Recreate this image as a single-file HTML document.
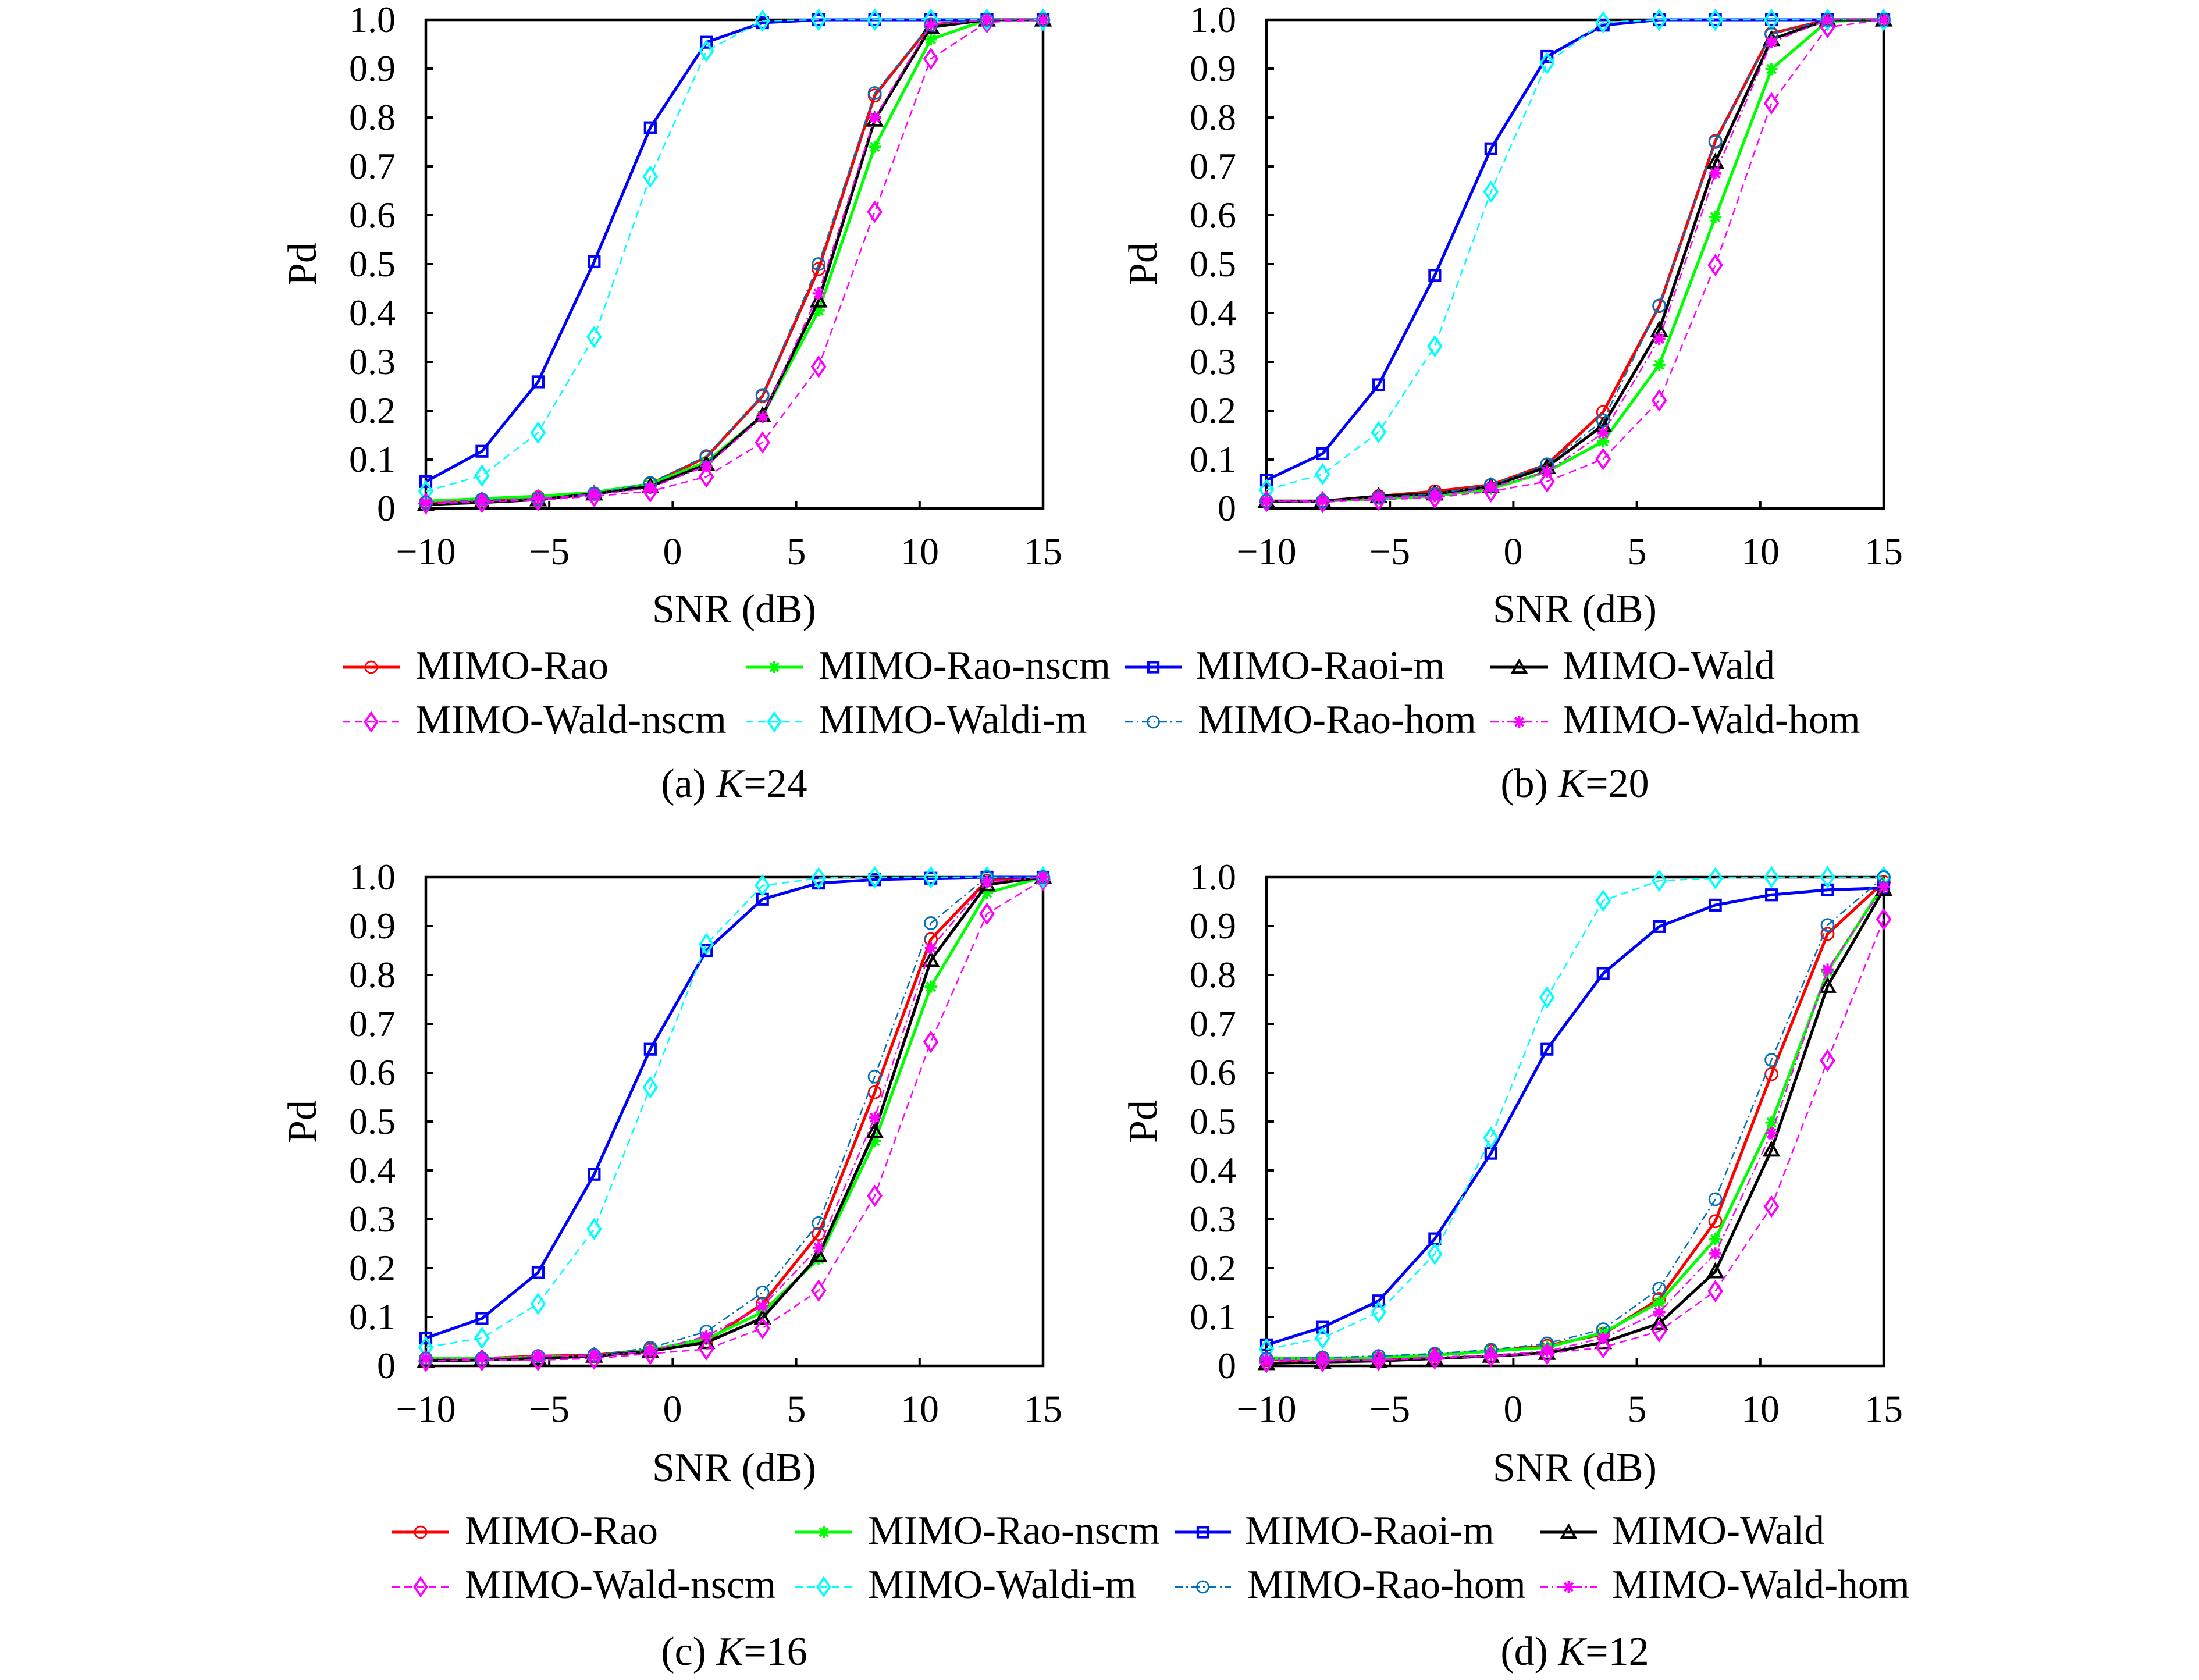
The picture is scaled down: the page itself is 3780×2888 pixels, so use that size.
<!DOCTYPE html>
<html>
<head>
<meta charset="utf-8">
<style>
html,body{margin:0;padding:0;background:#fff;}
svg{display:block;font-family:"Liberation Serif","DejaVu Serif",serif;}
svg text{font-family:"Liberation Serif","DejaVu Serif",serif !important;fill:#000;}
.yt{font-size:64px;text-anchor:end;}
.xt{font-size:66px;text-anchor:middle;}
.al{font-size:70px;text-anchor:middle;}
.lg{font-size:69.5px;}
.cap{font-size:70px;text-anchor:middle;}
</style>
</head>
<body>
<svg id="s" xmlns="http://www.w3.org/2000/svg" width="3780" height="2888" viewBox="0 0 3780 2888" font-family="Liberation Serif, DejaVu Serif, serif">
<rect x="0" y="0" width="3780" height="2888" fill="#fff"/>

<!-- Panel A tick labels -->
<g font-family="Liberation Serif, serif" style="font-family:'Liberation Serif',serif">
<text class="yt" x="680" y="895">0</text>
<text class="yt" x="680" y="811">0.1</text>
<text class="yt" x="680" y="727">0.2</text>
<text class="yt" x="680" y="643">0.3</text>
<text class="yt" x="680" y="559">0.4</text>
<text class="yt" x="680" y="475">0.5</text>
<text class="yt" x="680" y="391">0.6</text>
<text class="yt" x="680" y="307">0.7</text>
<text class="yt" x="680" y="223">0.8</text>
<text class="yt" x="680" y="139">0.9</text>
<text class="yt" x="680" y="55">1.0</text>
<text class="xt" x="732" y="970">−10</text>
<text class="xt" x="944" y="970">−5</text>
<text class="xt" x="1156" y="970">0</text>
<text class="xt" x="1369" y="970">5</text>
<text class="xt" x="1581" y="970">10</text>
<text class="xt" x="1793" y="970">15</text>
<text class="al" x="1262" y="1070">SNR (dB)</text>
<text class="al" transform="translate(543,454) rotate(-90)" x="0" y="0">Pd</text>
<text class="cap" x="1262" y="1370">(a) <tspan font-style="italic">K</tspan>=24</text>
</g>

<!-- Panel B tick labels -->
<g font-family="Liberation Serif, serif" style="font-family:'Liberation Serif',serif">
<text class="yt" x="2125" y="895">0</text>
<text class="yt" x="2125" y="811">0.1</text>
<text class="yt" x="2125" y="727">0.2</text>
<text class="yt" x="2125" y="643">0.3</text>
<text class="yt" x="2125" y="559">0.4</text>
<text class="yt" x="2125" y="475">0.5</text>
<text class="yt" x="2125" y="391">0.6</text>
<text class="yt" x="2125" y="307">0.7</text>
<text class="yt" x="2125" y="223">0.8</text>
<text class="yt" x="2125" y="139">0.9</text>
<text class="yt" x="2125" y="55">1.0</text>
<text class="xt" x="2177" y="970">−10</text>
<text class="xt" x="2389" y="970">−5</text>
<text class="xt" x="2601" y="970">0</text>
<text class="xt" x="2814" y="970">5</text>
<text class="xt" x="3026" y="970">10</text>
<text class="xt" x="3238" y="970">15</text>
<text class="al" x="2707" y="1070">SNR (dB)</text>
<text class="al" transform="translate(1988,454) rotate(-90)" x="0" y="0">Pd</text>
<text class="cap" x="2707" y="1370">(b) <tspan font-style="italic">K</tspan>=20</text>
</g>

<!-- Panel C tick labels -->
<g font-family="Liberation Serif, serif" style="font-family:'Liberation Serif',serif">
<text class="yt" x="680" y="2369">0</text>
<text class="yt" x="680" y="2285">0.1</text>
<text class="yt" x="680" y="2201">0.2</text>
<text class="yt" x="680" y="2117">0.3</text>
<text class="yt" x="680" y="2033">0.4</text>
<text class="yt" x="680" y="1949">0.5</text>
<text class="yt" x="680" y="1865">0.6</text>
<text class="yt" x="680" y="1781">0.7</text>
<text class="yt" x="680" y="1697">0.8</text>
<text class="yt" x="680" y="1613">0.9</text>
<text class="yt" x="680" y="1529">1.0</text>
<text class="xt" x="732" y="2444">−10</text>
<text class="xt" x="944" y="2444">−5</text>
<text class="xt" x="1156" y="2444">0</text>
<text class="xt" x="1369" y="2444">5</text>
<text class="xt" x="1581" y="2444">10</text>
<text class="xt" x="1793" y="2444">15</text>
<text class="al" x="1262" y="2546">SNR (dB)</text>
<text class="al" transform="translate(543,1928) rotate(-90)" x="0" y="0">Pd</text>
<text class="cap" x="1262" y="2862">(c) <tspan font-style="italic">K</tspan>=16</text>
</g>

<!-- Panel D tick labels -->
<g font-family="Liberation Serif, serif" style="font-family:'Liberation Serif',serif">
<text class="yt" x="2125" y="2369">0</text>
<text class="yt" x="2125" y="2285">0.1</text>
<text class="yt" x="2125" y="2201">0.2</text>
<text class="yt" x="2125" y="2117">0.3</text>
<text class="yt" x="2125" y="2033">0.4</text>
<text class="yt" x="2125" y="1949">0.5</text>
<text class="yt" x="2125" y="1865">0.6</text>
<text class="yt" x="2125" y="1781">0.7</text>
<text class="yt" x="2125" y="1697">0.8</text>
<text class="yt" x="2125" y="1613">0.9</text>
<text class="yt" x="2125" y="1529">1.0</text>
<text class="xt" x="2177" y="2444">−10</text>
<text class="xt" x="2389" y="2444">−5</text>
<text class="xt" x="2601" y="2444">0</text>
<text class="xt" x="2814" y="2444">5</text>
<text class="xt" x="3026" y="2444">10</text>
<text class="xt" x="3238" y="2444">15</text>
<text class="al" x="2707" y="2546">SNR (dB)</text>
<text class="al" transform="translate(1988,1928) rotate(-90)" x="0" y="0">Pd</text>
<text class="cap" x="2707" y="2862">(d) <tspan font-style="italic">K</tspan>=12</text>
</g>

<!-- Top legend text -->
<g font-family="Liberation Serif, serif" style="font-family:'Liberation Serif',serif">
<text class="lg" x="714" y="1167">MIMO-Rao</text>
<text class="lg" x="1407" y="1167">MIMO-Rao-nscm</text>
<text class="lg" x="2055" y="1167">MIMO-Raoi-m</text>
<text class="lg" x="2686" y="1167">MIMO-Wald</text>
<text class="lg" x="714" y="1260">MIMO-Wald-nscm</text>
<text class="lg" x="1407" y="1260">MIMO-Waldi-m</text>
<text class="lg" x="2059" y="1260">MIMO-Rao-hom</text>
<text class="lg" x="2686" y="1260">MIMO-Wald-hom</text>
</g>
<!-- Bottom legend text -->
<g font-family="Liberation Serif, serif" style="font-family:'Liberation Serif',serif">
<text class="lg" x="799" y="2654">MIMO-Rao</text>
<text class="lg" x="1492" y="2654">MIMO-Rao-nscm</text>
<text class="lg" x="2140" y="2654">MIMO-Raoi-m</text>
<text class="lg" x="2771" y="2654">MIMO-Wald</text>
<text class="lg" x="799" y="2747">MIMO-Wald-nscm</text>
<text class="lg" x="1492" y="2747">MIMO-Waldi-m</text>
<text class="lg" x="2144" y="2747">MIMO-Rao-hom</text>
<text class="lg" x="2771" y="2747">MIMO-Wald-hom</text>
</g>

<g id="plots"></g>
</svg>
<script>
(function(){
const NS='http://www.w3.org/2000/svg';
const g=document.getElementById('plots');
function el(tag,attrs){const e=document.createElementNS(NS,tag);for(const k in attrs)e.setAttribute(k,attrs[k]);g.appendChild(e);return e;}
const ST={
 rao:{c:'#ff0000',w:5,d:null,m:'o'},
 raonscm:{c:'#00ff00',w:5,d:null,m:'*'},
 raoim:{c:'#0000ff',w:5,d:null,m:'s'},
 wald:{c:'#000000',w:5,d:null,m:'^'},
 waldnscm:{c:'#ff00ff',w:2.5,d:'13 8',m:'d'},
 waldim:{c:'#00ffff',w:2.5,d:'13 8',m:'d'},
 raohom:{c:'#0072bd',w:2.5,d:'14 6 3 6',m:'o'},
 waldhom:{c:'#ff00ff',w:2.5,d:'14 6 3 6',m:'*'}
};
const ORDER=['rao','raonscm','raoim','wald','waldnscm','waldim','raohom','waldhom'];
function marker(m,x,y,c,s){
 s=s||1;
 if(m==='o') el('circle',{cx:x,cy:y,r:10.5*s,fill:'none',stroke:c,'stroke-width':2.8});
 else if(m==='s'){const h=9*s;el('rect',{x:x-h,y:y-h,width:2*h,height:2*h,fill:'none',stroke:c,'stroke-width':4.2});}
 else if(m==='^'){const h=12*s;el('path',{d:'M'+x+','+(y-h)+'L'+(x+h)+','+(y+h*0.8)+'L'+(x-h)+','+(y+h*0.8)+'Z',fill:'none',stroke:c,'stroke-width':4});}
 else if(m==='d'){el('path',{d:'M'+x+','+(y-16*s)+'L'+(x+11*s)+','+y+'L'+x+','+(y+16*s)+'L'+(x-11*s)+','+y+'Z',fill:'none',stroke:c,'stroke-width':3.8});}
 else if(m==='*'){const r=10.5*s,q=r*0.72;el('path',{d:'M'+(x-r)+','+y+'H'+(x+r)+'M'+x+','+(y-r)+'V'+(y+r)+'M'+(x-q)+','+(y-q)+'L'+(x+q)+','+(y+q)+'M'+(x-q)+','+(y+q)+'L'+(x+q)+','+(y-q),stroke:c,'stroke-width':4,fill:'none'});}
}
const W=1061,H=840;
const panels=[
 {x0:732,y1:874,data:{
  rao:[0.013,0.018,0.023,0.03,0.05,0.105,0.23,0.49,0.845,0.99,1,1],
  raonscm:[0.015,0.02,0.025,0.033,0.05,0.095,0.19,0.405,0.74,0.96,1,1],
  raoim:[0.055,0.117,0.259,0.505,0.779,0.954,0.994,1,1,1,1,1],
  wald:[0.008,0.012,0.018,0.03,0.045,0.09,0.19,0.425,0.795,0.985,1,1],
  waldnscm:[0.01,0.013,0.017,0.025,0.035,0.065,0.135,0.29,0.607,0.92,0.995,1],
  waldim:[0.035,0.067,0.155,0.351,0.679,0.936,0.998,1,1,1,1,1],
  raohom:[0.012,0.018,0.02,0.03,0.052,0.107,0.232,0.5,0.85,0.99,1,1],
  waldhom:[0.012,0.015,0.02,0.028,0.042,0.087,0.187,0.44,0.8,0.99,1,1]}},
 {x0:2177,y1:874,data:{
  rao:[0.015,0.015,0.025,0.035,0.048,0.09,0.197,0.414,0.752,0.972,1,1],
  raonscm:[0.015,0.015,0.02,0.025,0.04,0.075,0.137,0.294,0.596,0.899,0.997,1],
  raoim:[0.058,0.112,0.253,0.477,0.736,0.925,0.989,1,1,1,1,1],
  wald:[0.015,0.015,0.025,0.03,0.045,0.085,0.17,0.365,0.709,0.96,1,1],
  waldnscm:[0.015,0.013,0.018,0.022,0.035,0.055,0.101,0.221,0.498,0.829,0.985,1],
  waldim:[0.038,0.07,0.156,0.332,0.648,0.911,0.995,1,1,1,1,1],
  raohom:[0.015,0.015,0.022,0.03,0.048,0.09,0.18,0.415,0.75,0.97,1,1],
  waldhom:[0.015,0.015,0.022,0.025,0.043,0.075,0.154,0.347,0.686,0.954,1,1]}},
 {x0:732,y1:2348,data:{
  rao:[0.015,0.015,0.02,0.022,0.033,0.05,0.127,0.27,0.56,0.873,0.993,1],
  raonscm:[0.015,0.015,0.018,0.02,0.033,0.055,0.11,0.219,0.46,0.776,0.968,1],
  raoim:[0.057,0.097,0.191,0.392,0.648,0.85,0.955,0.988,0.995,0.998,1,1],
  wald:[0.01,0.012,0.015,0.02,0.03,0.048,0.098,0.226,0.48,0.83,0.985,1],
  waldnscm:[0.01,0.012,0.012,0.015,0.025,0.034,0.077,0.154,0.348,0.663,0.925,0.995],
  waldim:[0.038,0.057,0.127,0.28,0.57,0.863,0.983,0.998,1,1,1,1],
  raohom:[0.015,0.015,0.02,0.022,0.037,0.07,0.15,0.292,0.592,0.906,1,1],
  waldhom:[0.015,0.015,0.02,0.02,0.03,0.061,0.122,0.242,0.508,0.855,0.99,1]}},
 {x0:2177,y1:2348,data:{
  rao:[0.012,0.015,0.015,0.022,0.03,0.041,0.065,0.137,0.296,0.597,0.884,0.99],
  raonscm:[0.015,0.015,0.017,0.022,0.03,0.038,0.068,0.13,0.259,0.498,0.807,0.985],
  raoim:[0.043,0.079,0.133,0.26,0.435,0.648,0.803,0.899,0.943,0.964,0.974,0.978],
  wald:[0.005,0.008,0.01,0.015,0.02,0.026,0.048,0.087,0.193,0.442,0.777,0.975],
  waldnscm:[0.008,0.01,0.012,0.015,0.02,0.025,0.038,0.071,0.153,0.326,0.625,0.914],
  waldim:[0.034,0.057,0.11,0.229,0.467,0.754,0.952,0.993,0.998,1,1,1],
  raohom:[0.015,0.017,0.02,0.025,0.033,0.046,0.075,0.158,0.341,0.626,0.902,1],
  waldhom:[0.012,0.012,0.012,0.018,0.022,0.03,0.057,0.11,0.23,0.476,0.811,0.98]}}
];
panels.forEach(function(p){
 const x0=p.x0,y1=p.y1,y0=y1-H;
 el('rect',{x:x0,y:y0,width:W,height:H,fill:'#fff',stroke:'#000','stroke-width':4.5});
 for(let k=1;k<10;k++){const y=y1-k*84;el('line',{x1:x0,y1:y,x2:x0+13,y2:y,stroke:'#000','stroke-width':4});}
 for(let k=1;k<5;k++){const x=x0+k*W/5;el('line',{x1:x,y1:y1,x2:x,y2:y1-13,stroke:'#000','stroke-width':4});}
 ORDER.forEach(function(key){
  const st=ST[key],vals=p.data[key];
  const pts=vals.map(function(v,i){return [x0+i*W/11, y1-v*H];});
  const a={points:pts.map(function(q){return q[0].toFixed(1)+','+q[1].toFixed(1);}).join(' '),fill:'none',stroke:st.c,'stroke-width':st.w,'stroke-linejoin':'round'};
  if(st.d)a['stroke-dasharray']=st.d;
  el('polyline',a);
  pts.forEach(function(q){marker(st.m,q[0],q[1],st.c,1);});
 });
});
const cols=[[589,687],[1282,1380],[1934,2031],[2562,2661]];
const rowsTop=[[1147,['rao','raonscm','raoim','wald']],[1241,['waldnscm','waldim','raohom','waldhom']]];
[[0,0],[85,1487]].forEach(function(off){
 rowsTop.forEach(function(r){
  const y=r[0]+off[1];
  r[1].forEach(function(key,ci){
   const st=ST[key];const xa=cols[ci][0]+off[0],xb=cols[ci][1]+off[0];
   const a={x1:xa,y1:y,x2:xb,y2:y,stroke:st.c,'stroke-width':st.w};
   if(st.d)a['stroke-dasharray']=st.d;
   el('line',a);
   marker(st.m,(xa+xb)/2,y,st.c,0.95);
  });
 });
});
})();
</script>
</body>
</html>
